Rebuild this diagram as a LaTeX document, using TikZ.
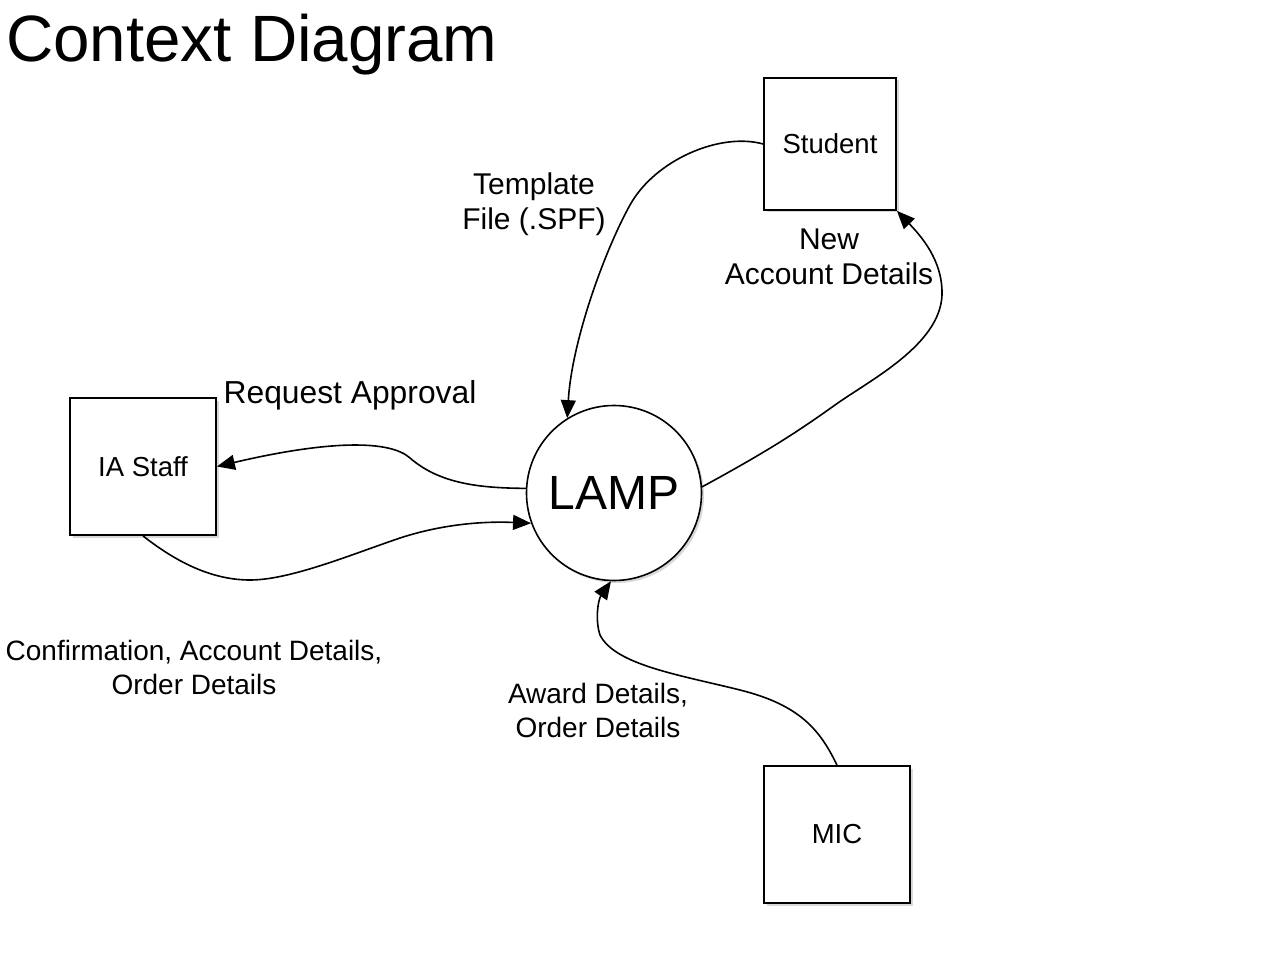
\documentclass[tikz,border=0pt]{standalone}
\usepackage{fontspec}
\setmainfont{Liberation Sans}
\usetikzlibrary{arrows.meta,shadows}
\begin{document}
\begin{tikzpicture}[x=1pt,y=-1pt,
  entity/.style={draw,line width=1.8pt,fill=white,inner sep=0pt,
    drop shadow={shadow xshift=2.5pt,shadow yshift=-2.5pt,opacity=0.3},
    font=\fontsize{27.5}{30}\selectfont},
  proc/.style={draw,circle,line width=1.6pt,fill=white,inner sep=0pt,minimum size=175pt,
    drop shadow={shadow xshift=2.5pt,shadow yshift=-2.5pt,opacity=0.3},
    font=\fontsize{48}{52}\selectfont},
  flowlabel/.style={inner sep=0pt,align=center,font=\fontsize{30}{35}\selectfont},
  smalllabel/.style={inner sep=0pt,align=center,font=\fontsize{28}{34}\selectfont},
  flow/.style={line width=1.6pt,-{Triangle[length=18pt,width=15pt]}}
]
\useasboundingbox[fill=white] (0,0) rectangle (1280,960);

\node[anchor=base west,inner sep=0pt,font=\fontsize{65.5}{70}\selectfont] (title) at (6,62) {Context Diagram};

\node[entity,minimum width=132pt,minimum height=132pt] (student) at (830,144) {Student};
\node[entity,minimum width=146pt,minimum height=137pt] (iastaff) at (143,466.5) {IA Staff};
\node[entity,minimum width=146pt,minimum height=137pt] (mic) at (837,834.5) {MIC};
\node[proc] (lamp) at (614,493) {LAMP};

\node[flowlabel] (ltemplate) at (534,204) {Template\\File (.SPF)};
\node[flowlabel] (lnew) at (829,257) {New\\Account Details};
\node[inner sep=0pt,font=\fontsize{31.8}{35}\selectfont] (lreq) at (350,395) {Request Approval};
\node[smalllabel] (lconf) at (194,667) {Confirmation, Account Details,\\Order Details};
\node[smalllabel] (laward) at (598,710) {Award Details,\\Order Details};

% Student -> LAMP
\draw[flow] (student.west) .. controls (720,132) and (655,160) .. (630,205)
  .. controls (605,250) and (572,340) .. (lamp.122);
% LAMP -> Student
\draw[flow] (lamp.4) .. controls (770,450) and (800,430) .. (835,405)
  .. controls (870,380) and (940,345) .. (942,295)
  .. controls (943,260) and (920,235) .. (student.south east);
% LAMP -> IA Staff
\draw[flow] (lamp.177) .. controls (480,488) and (440,484) .. (410,458)
  .. controls (390,440) and (330,440) .. (iastaff.east);
% IA Staff -> LAMP
\draw[flow] (iastaff.south) .. controls (180,565) and (215,580) .. (250,580)
  .. controls (290,580) and (350,555) .. (400,538)
  .. controls (440,525) and (480,521) .. (lamp.200);
% MIC -> LAMP
\draw[flow] (mic.north) .. controls (820,730) and (800,705) .. (740,690)
  .. controls (680,675) and (615,665) .. (600,635)
  .. controls (595,620) and (598,600) .. (lamp.268);
\end{tikzpicture}
\end{document}
